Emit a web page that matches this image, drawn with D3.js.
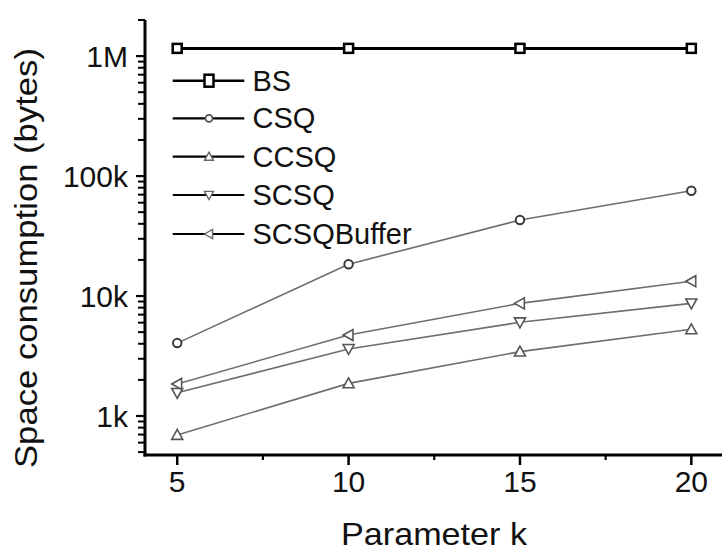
<!DOCTYPE html>
<html>
<head>
<meta charset="utf-8">
<script src="https://cdn.jsdelivr.net/npm/d3@7"></script>
<style>
  html, body { margin: 0; padding: 0; background: #fff; }
  svg { display: block; font-family: "Liberation Sans", Arial, sans-serif; }
</style>
</head>
<body>
<svg id="chart" width="722" height="551"></svg>
<script>
// Parameter k on the x axis
const kValues = [5, 10, 15, 20];
const xTickValues = [5, 10, 15, 20];

// Space consumption in bytes for each method
const seriesNames = ["BS", "CSQ", "CCSQ", "SCSQ", "SCSQBuffer"];
const bsValues = [1160000, 1160000, 1160000, 1160000];
const csqValues = [4050, 18400, 43000, 75500];
const ccsqValues = [695, 1870, 3440, 5280];
const scsqValues = [1560, 3620, 6040, 8690];
const scsqBufferValues = [1850, 4730, 8690, 13300];

// y axis labels
const yTickValues = [1e3, 1e4, 1e5, 1e6];
const yTickLabels = ["1k", "10k", "100k", "1M"];

(function () {
  const series = [
    { name: seriesNames[0], values: bsValues, marker: "square", line: "#000", lineWidth: 3, markStroke: "#000" },
    { name: seriesNames[1], values: csqValues, marker: "circle", line: "#6e6e6e", lineWidth: 1.6, markStroke: "#3a3a3a" },
    { name: seriesNames[2], values: ccsqValues, marker: "triUp", line: "#6e6e6e", lineWidth: 1.6, markStroke: "#555" },
    { name: seriesNames[3], values: scsqValues, marker: "triDown", line: "#6e6e6e", lineWidth: 1.6, markStroke: "#555" },
    { name: seriesNames[4], values: scsqBufferValues, marker: "triLeft", line: "#6e6e6e", lineWidth: 1.6, markStroke: "#555" }
  ];

  const svg = d3.select("#chart");
  const plotLeft = 145, plotBottom = 455, plotTop = 20, plotRight = 725.6;

  const x = d3.scaleLinear().domain([4.06, 21]).range([plotLeft, plotRight]);
  const y = d3.scaleLog().domain([473, 2e6]).range([plotBottom, plotTop]);

  // minor ticks on the log axis (2..9 per decade)
  const minorY = [];
  for (let e = 2; e <= 6; e++) {
    for (let m = 2; m <= 9; m++) {
      const v = m * Math.pow(10, e);
      if (v >= y.domain()[0] && v <= y.domain()[1]) minorY.push(v);
    }
  }
  const minorX = [7.5, 12.5, 17.5];

  const axisColor = "#000";

  // y axis
  const gy = svg.append("g").attr("transform", `translate(${plotLeft},0)`);
  gy.append("line").attr("x1", 0).attr("x2", 0).attr("y1", plotTop).attr("y2", plotBottom + 1.5)
    .attr("stroke", axisColor).attr("stroke-width", 3);
  gy.selectAll("line.major").data(yTickValues).join("line").attr("class", "major")
    .attr("x1", -9).attr("x2", 0).attr("y1", d => y(d)).attr("y2", d => y(d))
    .attr("stroke", axisColor).attr("stroke-width", 2.2);
  gy.selectAll("line.minor").data(minorY).join("line").attr("class", "minor")
    .attr("x1", -7).attr("x2", 0).attr("y1", d => y(d)).attr("y2", d => y(d))
    .attr("stroke", axisColor).attr("stroke-width", 2);
  gy.selectAll("text").data(yTickValues).join("text")
    .attr("x", -17).attr("y", d => y(d)).attr("dy", "0.36em")
    .attr("text-anchor", "end").attr("font-size", 30).attr("fill", "#111")
    .text((d, i) => yTickLabels[i]);

  // x axis
  const gx = svg.append("g").attr("transform", `translate(0,${plotBottom})`);
  gx.append("line").attr("x1", plotLeft - 1.5).attr("x2", 722).attr("y1", 0).attr("y2", 0)
    .attr("stroke", axisColor).attr("stroke-width", 3);
  gx.selectAll("line.major").data(xTickValues).join("line").attr("class", "major")
    .attr("x1", d => x(d)).attr("x2", d => x(d)).attr("y1", 0).attr("y2", 10)
    .attr("stroke", axisColor).attr("stroke-width", 2.5);
  gx.selectAll("line.minor").data(minorX).join("line").attr("class", "minor")
    .attr("x1", d => x(d)).attr("x2", d => x(d)).attr("y1", 0).attr("y2", 5)
    .attr("stroke", axisColor).attr("stroke-width", 2.2);
  gx.selectAll("text").data(xTickValues).join("text")
    .attr("x", d => x(d)).attr("y", 37)
    .attr("text-anchor", "middle").attr("font-size", 30).attr("fill", "#111")
    .text(d => d);

  // axis titles
  svg.append("text").attr("x", 434).attr("y", 545)
    .attr("text-anchor", "middle").attr("font-size", 32).attr("fill", "#111")
    .attr("textLength", 186).attr("lengthAdjust", "spacingAndGlyphs")
    .text("Parameter k");
  svg.append("text").attr("transform", "translate(37,258) rotate(-90)")
    .attr("text-anchor", "middle").attr("font-size", 31).attr("fill", "#111")
    .attr("textLength", 420).attr("lengthAdjust", "spacingAndGlyphs")
    .text("Space consumption (bytes)");

  // marker shapes
  function drawMarker(g, type, cx, cy, size, stroke, width) {
    const s = size;
    if (type === "square") {
      g.append("rect").attr("x", cx - s / 2).attr("y", cy - s / 2).attr("width", s).attr("height", s)
        .attr("fill", "#fff").attr("stroke", stroke).attr("stroke-width", width);
    } else if (type === "circle") {
      g.append("circle").attr("cx", cx).attr("cy", cy).attr("r", s / 2)
        .attr("fill", "#fff").attr("stroke", stroke).attr("stroke-width", width);
    } else {
      const h = s / 2;
      let pts;
      if (type === "triUp") pts = [[cx, cy - h], [cx + h, cy + h * 0.8], [cx - h, cy + h * 0.8]];
      else if (type === "triDown") pts = [[cx, cy + h], [cx + h, cy - h * 0.8], [cx - h, cy - h * 0.8]];
      else pts = [[cx - h, cy], [cx + h * 0.8, cy - h], [cx + h * 0.8, cy + h]];
      g.append("polygon").attr("points", pts.map(p => p.join(",")).join(" "))
        .attr("fill", "#fff").attr("stroke", stroke).attr("stroke-width", width);
    }
  }

  // series lines and markers
  const line = d3.line().x((d, i) => x(kValues[i])).y(d => y(d));
  const plot = svg.append("g");
  series.slice().reverse().forEach(s => {
    plot.append("path").datum(s.values).attr("d", line)
      .attr("fill", "none").attr("stroke", s.line).attr("stroke-width", s.lineWidth);
  });
  series.forEach(s => {
    const g = plot.append("g");
    s.values.forEach((v, i) => {
      if (s.marker === "square") drawMarker(g, "square", x(kValues[i]), y(v), 9, "#000", 2.5);
      else if (s.marker === "circle") drawMarker(g, "circle", x(kValues[i]), y(v), 8.5, s.markStroke, 2);
      else drawMarker(g, s.marker, x(kValues[i]), y(v), 11, s.markStroke, 1.6);
    });
  });

  // legend
  const legendRows = [80.7, 118.3, 156.7, 195, 234];
  const legend = svg.append("g");
  series.forEach((s, i) => {
    const cy = legendRows[i];
    const g = legend.append("g");
    g.append("line").attr("x1", 172.7).attr("x2", 244.3).attr("y1", cy).attr("y2", cy)
      .attr("stroke", "#000").attr("stroke-width", i === 0 ? 2.6 : 2.2);
    if (s.marker === "square") {
      g.append("rect").attr("x", 209 - 4.5).attr("y", cy - 6).attr("width", 9).attr("height", 12)
        .attr("fill", "#fff").attr("stroke", "#000").attr("stroke-width", 2.5);
    } else if (s.marker === "circle") {
      drawMarker(g, "circle", 209, cy, 7, "#555", 1.8);
    } else {
      drawMarker(g, s.marker, 209, cy, 9, "#666", 1.4);
    }
    g.append("text").attr("x", 252.5).attr("y", cy + 9.8)
      .attr("font-size", 29).attr("fill", "#111").text(s.name);
  });
})();
</script>
</body>
</html>
